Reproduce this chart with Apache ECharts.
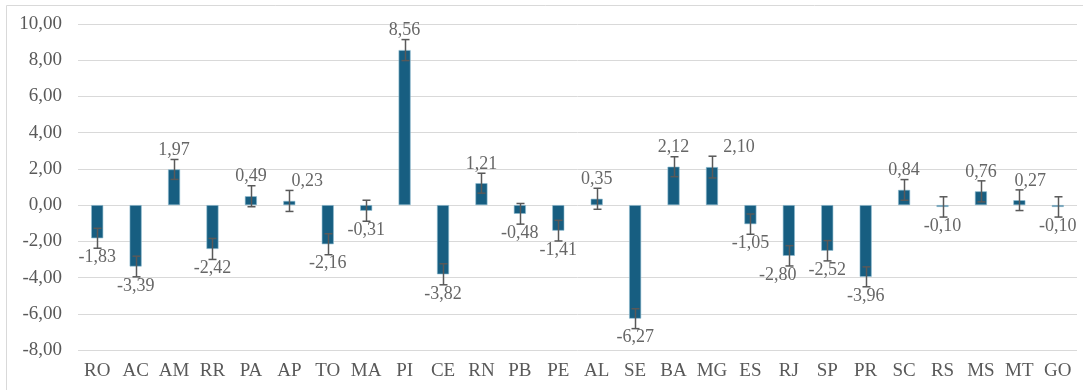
<!DOCTYPE html>
<html>
<head>
<meta charset="utf-8">
<script src="https://cdn.jsdelivr.net/npm/echarts@6/dist/echarts.min.js"></script>
<style>
  html, body { margin: 0; padding: 0; background: #fff; }
  #chart { width: 1083px; height: 390px; }
</style>
</head>
<body>
<div id="chart"></div>
<script>
// estados
const states = ['RO', 'AC', 'AM', 'RR', 'PA', 'AP', 'TO', 'MA', 'PI', 'CE', 'RN', 'PB', 'PE',
  'AL', 'SE', 'BA', 'MG', 'ES', 'RJ', 'SP', 'PR', 'SC', 'RS', 'MS', 'MT', 'GO']
const values = [-1.83, -3.39, 1.97, -2.42, 0.49, 0.23, -2.16, -0.31, 8.56, -3.82, 1.21, -0.48, -1.41,
  0.35, -6.27, 2.12, 2.10, -1.05, -2.80, -2.52, -3.96, 0.84, -0.10, 0.76, 0.27, -0.10]
// meia amplitude da barra de erro
const errors = [0.55, 0.57, 0.55, 0.58, 0.58, 0.58, 0.58, 0.58, 0.58, 0.58, 0.55, 0.57, 0.57,
  0.58, 0.55, 0.55, 0.60, 0.56, 0.56, 0.56, 0.55, 0.57, 0.56, 0.58, 0.57, 0.56]
const yTicks = { min: -8, max: 10, interval: 2 }

const font = 'Liberation Serif'
const fmt = v => v.toFixed(2).replace('.', ',')

// alguns rótulos foram deslocados à mão no original
const labelShift = { AP: 18, MG: 27, MT: 11, RJ: -11 }

const chart = echarts.init(document.getElementById('chart'))

chart.setOption({
  animation: false,
  graphic: [
    {
      type: 'rect',
      shape: { x: 6.5, y: 5.5, width: 1200, height: 500 },
      style: { fill: 'none', stroke: '#d9d9d9', lineWidth: 1 },
      silent: true,
      z: -1,
    },
  ],
  grid: {
    left: 78,
    right: 6,
    top: 24,
    bottom: 40,
  },
  xAxis: {
    type: 'category',
    data: states,
    axisLine: { show: false },
    axisTick: { show: false },
    axisLabel: {
      interval: 0,
      margin: 12,
      color: '#595959',
      fontFamily: font,
      fontSize: 19,
    },
    position: 'bottom',
  },
  yAxis: {
    type: 'value',
    min: yTicks.min,
    max: yTicks.max,
    interval: yTicks.interval,
    axisLine: { show: false },
    axisTick: { show: false },
    splitLine: { lineStyle: { color: '#d9d9d9', width: 1 } },
    axisLabel: {
      margin: 16,
      color: '#595959',
      fontFamily: font,
      fontSize: 19,
      formatter: v => fmt(v),
    },
  },
  series: [
    {
      type: 'bar',
      data: values,
      barWidth: 12,
      itemStyle: {
        color: '#175e81',
        borderColor: '#8fbcd0',
        borderWidth: 0.6,
      },
      z: 2,
    },
    {
      // barras de erro
      type: 'custom',
      data: values.map((v, i) => [i, v + errors[i], v - errors[i]]),
      renderItem(params, api) {
        const top = api.coord([api.value(0), api.value(1)])
        const bot = api.coord([api.value(0), api.value(2)])
        const x = Math.round(top[0]) + 0.5
        const cap = 4
        const style = { stroke: '#595959', lineWidth: 1.5, fill: 'none' }
        return {
          type: 'group',
          children: [
            { type: 'line', shape: { x1: x, y1: top[1], x2: x, y2: bot[1] }, style },
            { type: 'line', shape: { x1: x - cap, y1: top[1], x2: x + cap, y2: top[1] }, style },
            { type: 'line', shape: { x1: x - cap, y1: bot[1], x2: x + cap, y2: bot[1] }, style },
          ],
        }
      },
      z: 3,
    },
    {
      // rótulos de dados
      type: 'scatter',
      symbolSize: 0,
      data: values.map((v, i) => ({
        value: [i, v >= 0 ? v + errors[i] : v - errors[i]],
        label: {
          position: v >= 0 ? 'top' : 'bottom',
          offset: [labelShift[states[i]] || 0, 0],
        },
      })),
      label: {
        show: true,
        distance: 0,
        color: '#404040',
        fontFamily: font,
        fontSize: 18,
        formatter: p => fmt(values[p.dataIndex]),
      },
      z: 4,
    },
  ],
})
</script>
</body>
</html>
